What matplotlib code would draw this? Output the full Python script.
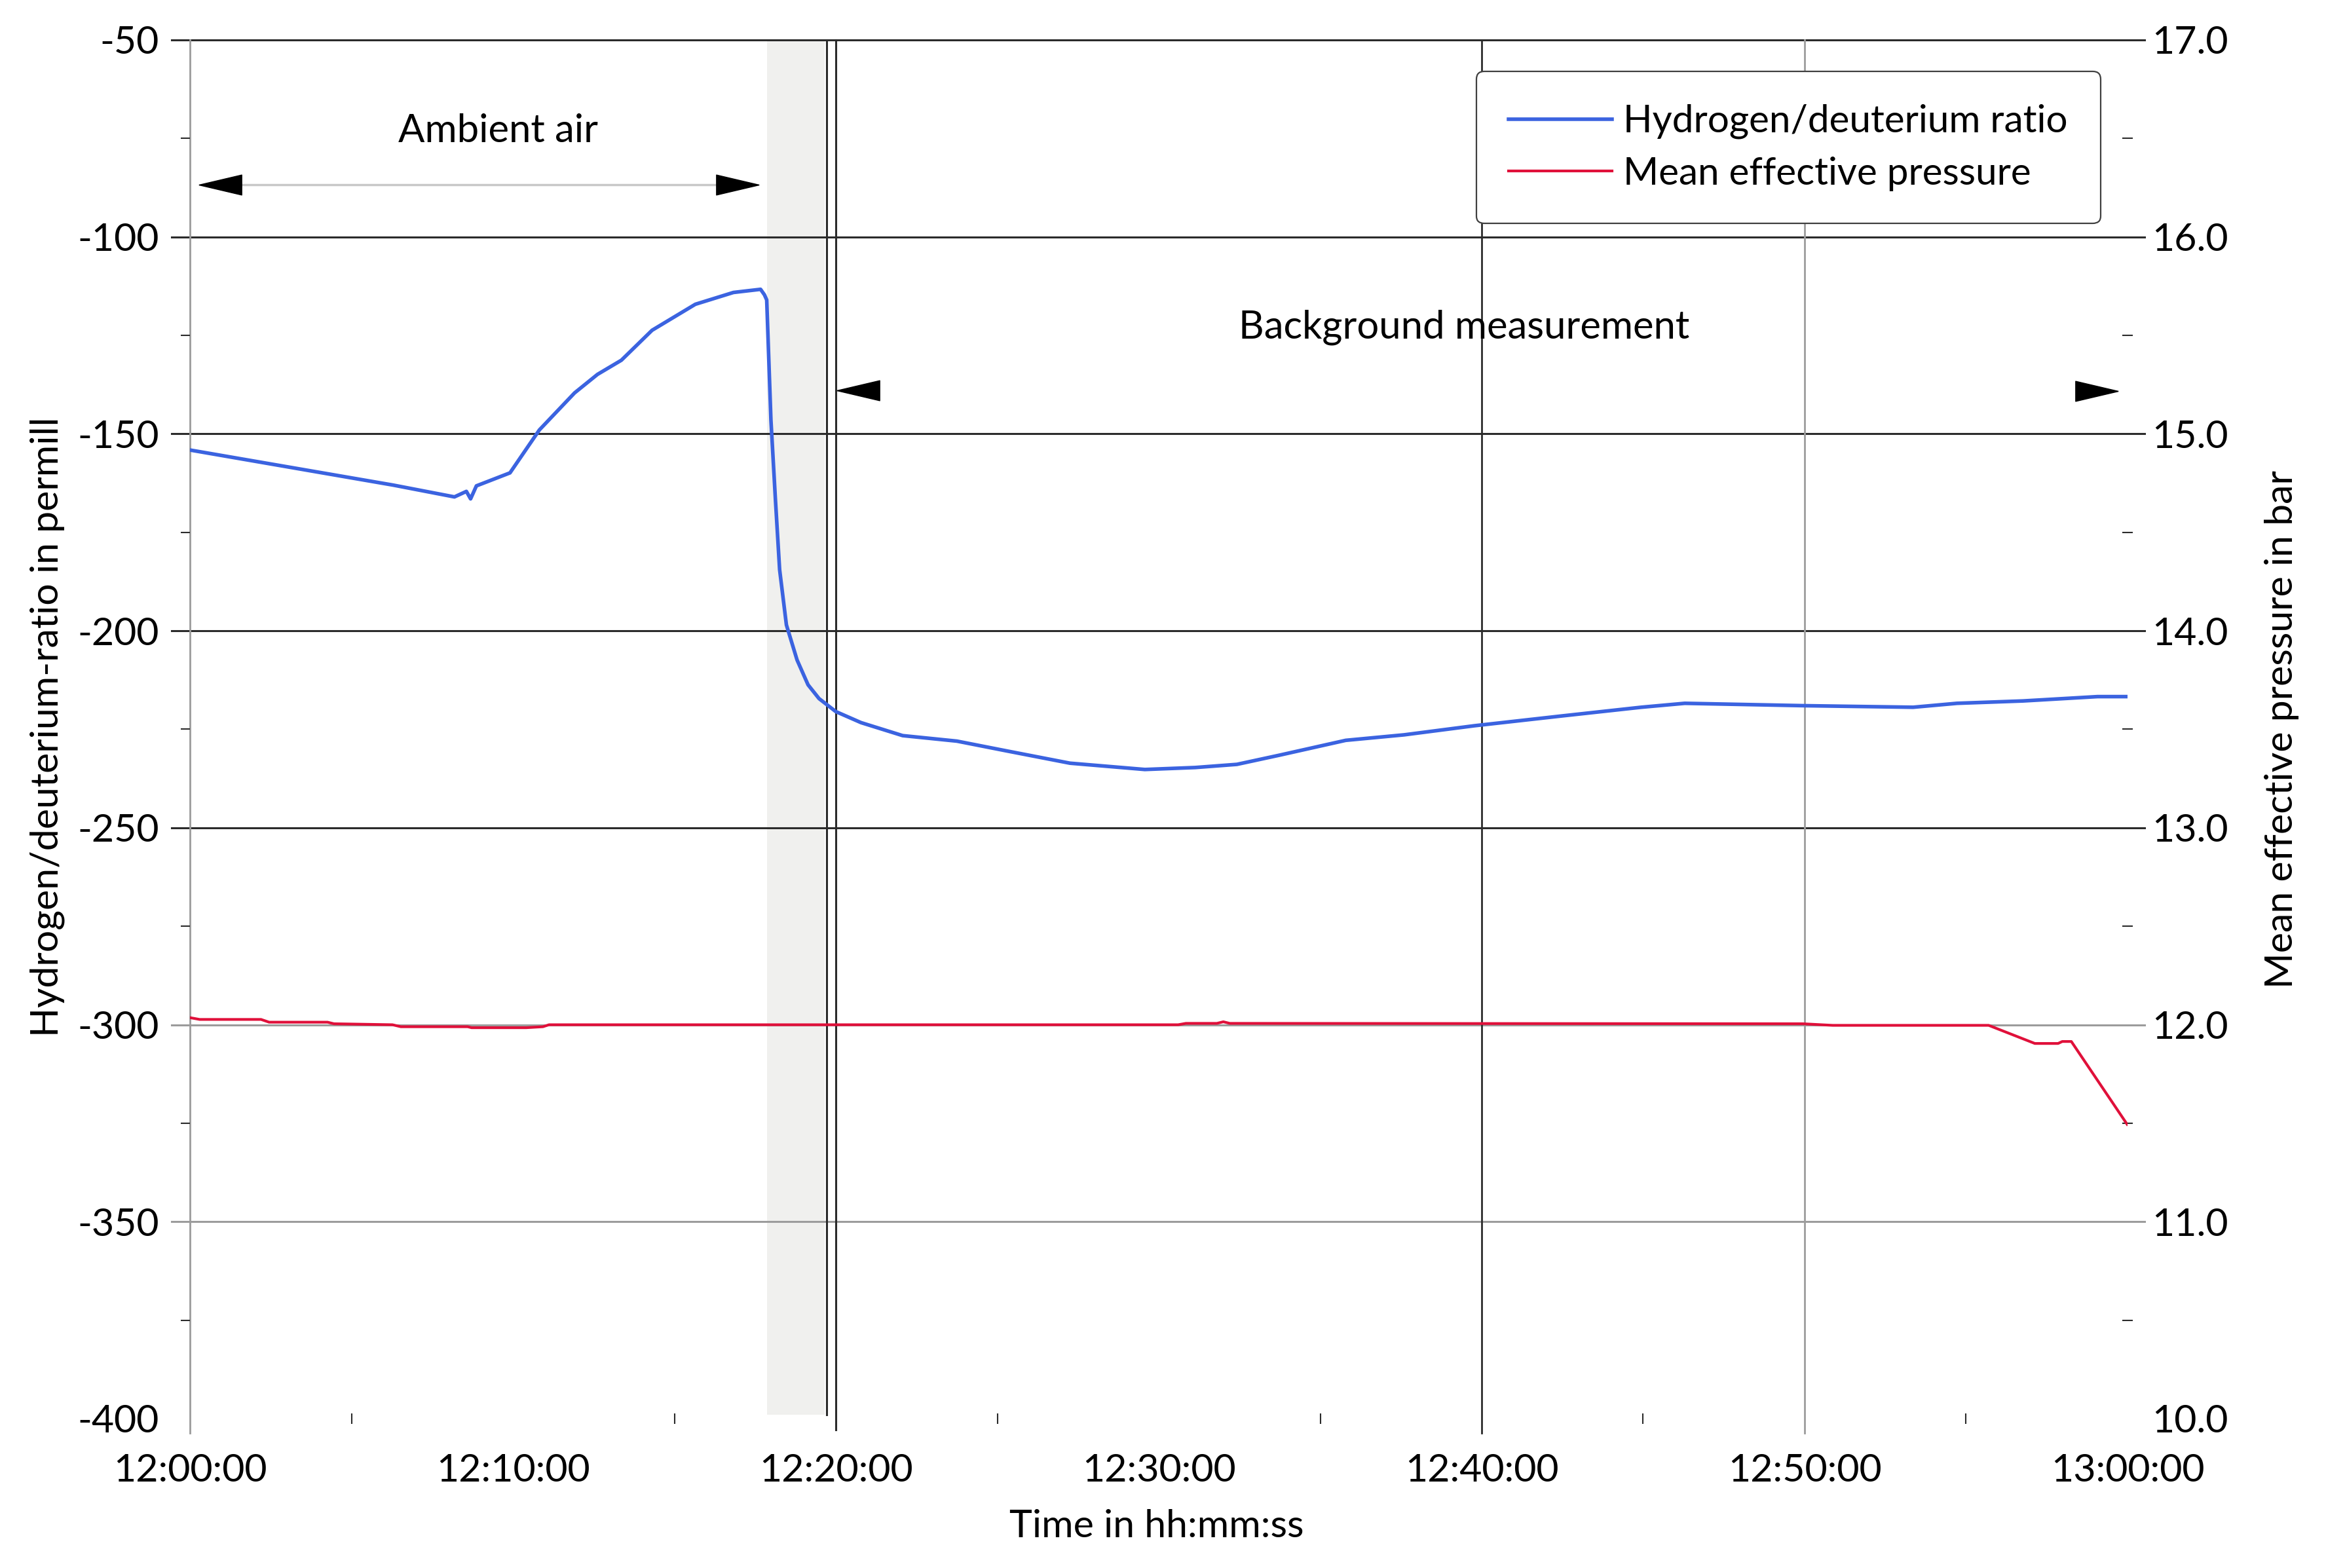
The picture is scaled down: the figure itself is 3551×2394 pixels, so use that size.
import numpy as np
import matplotlib.pyplot as plt

plt.rcParams['font.family'] = ['Lato', 'DejaVu Sans']
plt.rcParams['axes.unicode_minus'] = False

# time axis in minutes after 12:00:00
time_ticks = [0, 10, 20, 30, 40, 50, 60]
time_labels = ['12:00:00', '12:10:00', '12:20:00', '12:30:00', '12:40:00', '12:50:00', '13:00:00']

# hydrogen/deuterium ratio (permill)
hd_time = [0.0, 6.29, 8.19, 8.56, 8.69, 8.87, 9.91, 10.82, 11.91, 12.62, 13.36, 14.31,
           15.65, 16.83, 17.67, 17.79, 17.86, 17.99, 18.13, 18.26, 18.47, 18.80, 19.14,
           19.48, 20.0, 20.78, 22.07, 23.75, 25.30, 27.25, 29.57, 31.13, 32.42, 33.72,
           35.79, 37.60, 39.77, 42.49, 44.94, 46.29, 49.96, 53.36, 54.72, 56.76, 59.07, 59.95]
hd_ratio = [-154.1, -163.0, -166.0, -164.6, -166.5, -163.2, -159.9, -149.0, -139.6, -134.9,
            -131.3, -123.7, -117.1, -114.1, -113.3, -114.7, -116.0, -146.4, -166.7, -184.5,
            -198.5, -207.4, -213.7, -217.2, -220.5, -223.3, -226.6, -228.0, -230.5, -233.6,
            -235.2, -234.7, -233.9, -231.6, -227.8, -226.4, -224.1, -221.6, -219.4, -218.4,
            -219.0, -219.4, -218.4, -217.8, -216.7, -216.7]

# mean effective pressure (bar)
mep_time = [0.0, 0.3, 2.2, 2.45, 4.26, 4.46, 6.27, 6.53, 8.6, 8.72, 10.41, 10.93, 11.12,
            30.6, 30.84, 31.8, 32.0, 32.2, 49.94, 50.87, 55.7, 57.13, 57.85, 57.98, 58.26, 59.99]
mep_bar = [12.036, 12.027, 12.027, 12.013, 12.013, 12.005, 12.0, 11.99, 11.99, 11.985, 11.985,
           11.99, 12.0, 12.0, 12.007, 12.007, 12.015, 12.007, 12.005, 11.997, 11.997, 11.905,
           11.905, 11.915, 11.915, 11.494]

left_ticks = [-400, -350, -300, -250, -200, -150, -100, -50]
right_ticks = [10.0, 11.0, 12.0, 13.0, 14.0, 15.0, 16.0, 17.0]

blue = '#3b63e0'
red = '#e0103a'
dark = '#2b2b2b'
grey = '#9c9c9c'
fs = 42.5

fig = plt.figure(figsize=(35.51, 23.94), dpi=100)
ax = fig.add_axes([0.08167, 0.09524, 0.83300, 0.87928])
ax2 = ax.twinx()

ax.set_xlim(0, 60)
ax.set_ylim(-400, -50)
ax2.set_ylim(10, 17)
for a in (ax, ax2):
    for s in a.spines.values():
        s.set_visible(False)

# grid lines (with their outward tick stubs)
for v in left_ticks[1:]:
    c = grey if v in (-350, -300) else dark
    ax.axhline(v, xmin=-0.0095, xmax=1.0088, color=c, lw=2.2, clip_on=False, zorder=1)

# cursor / grid verticals
ax.axvspan(17.88, 19.66, ymin=0.003, ymax=1, color='#f0f0ee', lw=0, zorder=0)
ax.axvline(0, ymin=-0.0105, ymax=1, color=grey, lw=2, clip_on=False, zorder=1)
ax.axvline(19.72, ymin=0.003, ymax=1, color=dark, lw=2.2, zorder=1)
ax.axvline(20.0, ymin=-0.008, ymax=1, color=dark, lw=2.2, clip_on=False, zorder=1)
ax.axvline(40, ymin=-0.0105, ymax=1, color=dark, lw=2, clip_on=False, zorder=1)
ax.axvline(50, ymin=-0.0105, ymax=1, color=grey, lw=2, clip_on=False, zorder=1)

l1, = ax.plot(hd_time, hd_ratio, color=blue, lw=4, zorder=3, label='Hydrogen/deuterium ratio')
l2, = ax2.plot(mep_time, mep_bar, color=red, lw=3, zorder=3, label='Mean effective pressure')

# ticks
ax.set_yticks(left_ticks)
ax.set_yticklabels([str(v) for v in left_ticks])
ax.set_yticks(np.arange(-375, -50, 50), minor=True)
ax.tick_params(axis='y', which='major', length=0, pad=34, labelsize=fs)
ax.tick_params(axis='y', which='minor', length=10, width=1.5, color=dark, direction='out')

ax.set_xticks(time_ticks)
ax.set_xticklabels(time_labels)
ax.set_xticks(np.arange(5, 60, 10), minor=True)
ax.tick_params(axis='x', which='major', length=0, pad=38, labelsize=fs)
ax.tick_params(axis='x', which='minor', length=11, width=1.5, color=dark, direction='inout')

ax2.set_yticks(right_ticks)
ax2.set_yticklabels(['%.1f' % v for v in right_ticks])
ax2.set_yticks(np.arange(10.5, 17, 1.0), minor=True)
ax2.tick_params(axis='y', which='major', length=0, pad=27, labelsize=fs)
ax2.tick_params(axis='y', which='minor', length=12, width=1.5, color=dark, direction='inout')

# axis labels
ax.set_xlabel('Time in hh:mm:ss', fontsize=fs)
ax.xaxis.label.set_va('center')
ax.xaxis.set_label_coords(0.499, -0.078)
ax.set_ylabel('Hydrogen/deuterium-ratio in permill', fontsize=fs)
ax.yaxis.label.set_va('center')
ax.yaxis.set_label_coords(-0.0737, 0.502)
ax2.set_ylabel('Mean effective pressure in bar', fontsize=fs, rotation=90)
ax2.yaxis.label.set_va('center')
ax2.yaxis.set_label_coords(1.0795, 0.5)

# phase annotations
head_l = [(-1, 0), (1, 0.47), (1, -0.47), (-1, 0)]
head_r = [(1, 0), (-1, 0.47), (-1, -0.47), (1, 0)]
ax.plot([0.9, 17.0], [-86.7, -86.7], color='#c8c8c8', lw=2.5, zorder=2)
ax.plot([0.94], [-86.7], marker=head_l, ms=47, color='black', ls='none', zorder=4)
ax.plot([16.95], [-86.7], marker=head_r, ms=47, color='black', ls='none', zorder=4)
ax.text(9.55, -73.1, 'Ambient air', fontsize=43, ha='center', va='center')

ax.plot([20.69], [-138.9], marker=head_l, ms=47, color='black', ls='none', zorder=4)
ax.plot([59.05], [-139.2], marker=head_r, ms=47, color='black', ls='none', zorder=4)
ax.text(39.46, -123.0, 'Background measurement', fontsize=43, ha='center', va='center')

leg = ax2.legend(handles=[l1, l2], loc='upper right', bbox_to_anchor=(0.986, 0.977),
                 fontsize=42, frameon=True, fancybox=True, framealpha=1,
                 edgecolor='#404040', handlelength=2.7, handletextpad=0.3,
                 labelspacing=0.45, borderpad=0.85, borderaxespad=0)
leg.get_frame().set_linewidth(1.6)

fig.savefig('out.png', dpi=100)
